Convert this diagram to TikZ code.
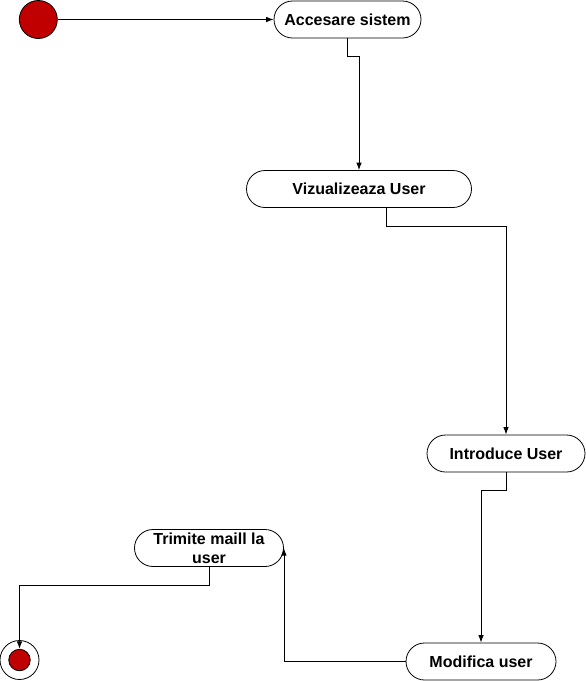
\documentclass[tikz,border=0pt]{standalone}
\usepackage{fontspec}
\setmainfont{Liberation Sans}
\usetikzlibrary{arrows.meta}
\definecolor{stateRed}{HTML}{C00000}
\tikzset{
  activity/.style={draw, rounded corners=18.5pt, minimum height=37pt, inner sep=0pt,
                   align=center, font=\fontsize{16}{19}\selectfont\bfseries},
  flow/.style={-{Latex[length=7.5pt,width=5.5pt]}, line width=0.8pt},
}
\begin{document}
\begin{tikzpicture}[x=1pt, y=-1pt, line width=0.8pt]
        \useasboundingbox (0,0) rectangle (586,681);
        % start / end
        \node[circle, draw, fill=stateRed, minimum size=38pt, inner sep=0pt] (start) at (38.3,19.5) {};
        \node[circle, draw, minimum size=39pt, inner sep=0pt] (endring) at (19.5,660) {};
        \node[circle, draw, fill=stateRed, minimum size=21.5pt, inner sep=0pt] (endin) at (19.5,660) {};
        % activities
        \node[activity, minimum width=147pt] (acc)   at (347.5,19.5) {Accesare sistem};
        \node[activity, minimum width=225pt] (viz)   at (359,189)    {Vizualizeaza User};
        \node[activity, minimum width=158pt] (intro) at (506,453.5)  {Introduce User};
        \node[activity, minimum width=150pt] (mod)   at (481,661.5)  {Modifica user};
        \node[activity, minimum width=149pt] (trim)  at (209,548)    {Trimite maill la\\user};
        % transitions
        \draw[flow] (start) -- (acc);
        \draw[flow] (acc.south) -- ++(0,18) -| (viz.north);
        \draw[flow] ([xshift=27pt]viz.south) -- ++(0,18) -| (intro.north);
        \draw[flow] (intro.south) -- ++(0,18) -| (mod.north);
        \draw[flow] (mod.west) -| (trim.east);
        \draw[flow] (trim.south) -- ++(0,18) -| (endin.north);
\end{tikzpicture}
\end{document}
